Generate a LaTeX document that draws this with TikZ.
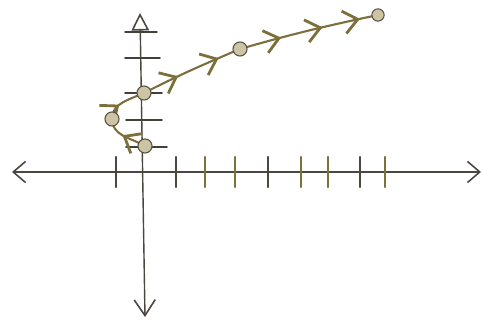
\documentclass[tikz,border=0pt]{standalone}
\usetikzlibrary{arrows.meta,decorations.markings}
\definecolor{pencil}{HTML}{4a4740}
\definecolor{curvecol}{HTML}{7d6f3c}
\definecolor{tickol}{HTML}{7d7038}
\definecolor{dotfill}{HTML}{cdc4a6}
\definecolor{dotline}{HTML}{5a5040}
\newcommand\chevtip{\arrow{Straight Barb[length=8pt,width=13pt,line width=1.6pt]}}
\begin{document}
\begin{tikzpicture}[x=0.02cm,y=0.02cm,
  axis/.style={draw=pencil, line width=0.8pt},
  ytick/.style={draw=pencil!90!black, line width=1.1pt, line cap=round},
  xtick/.style={draw=#1, line width=1.3pt, line cap=round},
  curve/.style={draw=curvecol, line width=1.2pt},
  dot/.style={circle, draw=dotline, fill=dotfill, line width=0.6pt, inner sep=0pt, minimum size=8pt}]
\useasboundingbox (0,0) rectangle (483,323);
% axes
\coordinate (xl) at (12,151);
\coordinate (xr) at (481,151);
\coordinate (yt) at (140,310);
\coordinate (yb) at (145,6);
\draw[axis, {Straight Barb[length=7pt,width=12pt,line width=0.9pt]}-{Straight Barb[length=7pt,width=12pt,line width=0.9pt]}] (xl) -- (xr);
\draw[axis, {Triangle[open,length=10pt,width=10pt,line width=0.9pt]}-{Straight Barb[length=9pt,width=12pt,line width=0.9pt]}] (yt) -- (yb);
% x ticks
\foreach \x/\c in {116/pencil,176/pencil,205/tickol,235/tickol,268/pencil,301/tickol,328/tickol,360/pencil,385/tickol}
  \draw[xtick=\c] (\x,166) -- (\x,136);
% y ticks
\draw[ytick] (125,291) -- (157,291);
\draw[ytick] (125,265) -- (160,265);
\draw[ytick] (125,230) -- (162,230);
\draw[ytick] (126,203) -- (162,203);
\draw[ytick] (126,176) -- (167,176);
% curve points
\coordinate (p1) at (145,177);
\coordinate (p2) at (112,204);
\coordinate (p3) at (144,230);
\coordinate (p4) at (240,274);
\coordinate (p5) at (378,308);
\draw[curve, postaction={decorate}, decoration={markings, mark=at position 0.55 with {\chevtip}}]
  (p1) to[out=150,in=-90] (p2);
\draw[curve, postaction={decorate}, decoration={markings, mark=at position 0.38 with {\chevtip}}]
  (p2) to[out=90,in=205] (p3);
\draw[curve, postaction={decorate}, decoration={markings, mark=at position 0.36 with {\chevtip}, mark=at position 0.78 with {\chevtip}}]
  (p3) to[out=27,in=203] (p4);
\draw[curve, postaction={decorate}, decoration={markings, mark=at position 0.3 with {\chevtip}, mark=at position 0.6 with {\chevtip}, mark=at position 0.87 with {\chevtip}}]
  (p4) to[out=16,in=192] (p5);
% dots
\node[dot] (d1) at (p1) {};
\node[dot] (d2) at (p2) {};
\node[dot] (d3) at (p3) {};
\node[dot] (d4) at (p4) {};
\node[dot, minimum size=7pt] (d5) at (p5) {};
\end{tikzpicture}
\end{document}
